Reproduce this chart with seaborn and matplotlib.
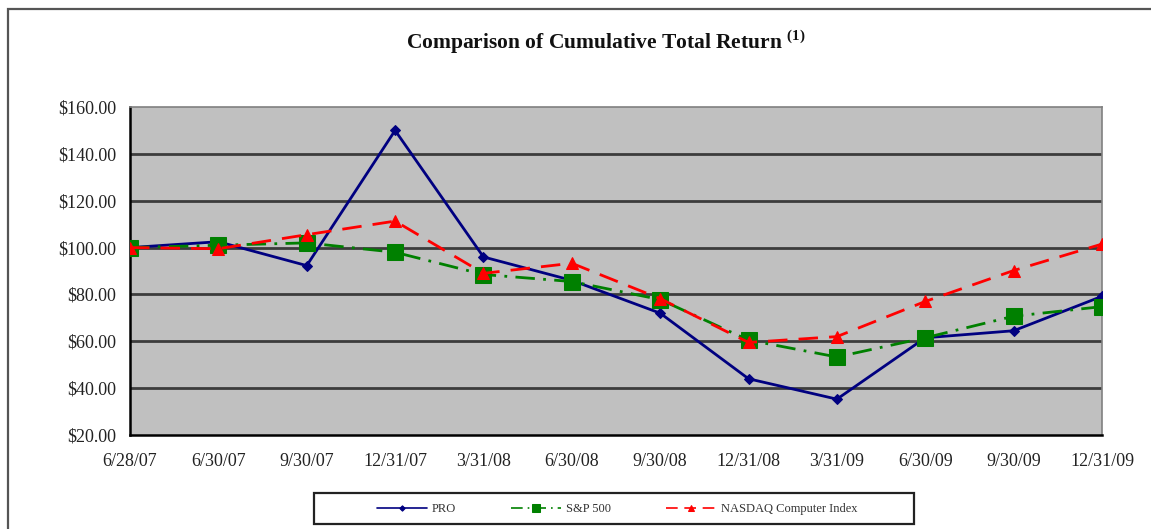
import pandas as pd
import seaborn as sns
import matplotlib.pyplot as plt
from matplotlib.patches import Rectangle

dates = ["6/28/07", "6/30/07", "9/30/07", "12/31/07", "3/31/08", "6/30/08",
         "9/30/08", "12/31/08", "3/31/09", "6/30/09", "9/30/09", "12/31/09"]
pro = [100, 102.5, 92.3, 150, 96, 86, 72, 44, 35.3, 61.5, 64.5, 79.2]
sp500 = [100, 101, 102, 98, 88.5, 85.5, 77.8, 60.5, 53.3, 61.5, 70.7, 74.8]
nasdaq = [100, 99.5, 105.5, 111.3, 89, 93.3, 78.2, 59.5, 62, 77, 90.2, 101.5]
y_ticks = [20, 40, 60, 80, 100, 120, 140, 160]

sns.set_theme(style="white")
plt.rcParams["font.family"] = ["Liberation Serif", "DejaVu Serif"]

df = pd.DataFrame({"pos": range(len(dates)), "date": dates,
                   "PRO": pro, "S&P 500": sp500, "NASDAQ Computer Index": nasdaq})

W, H = 1151, 529
fig = plt.figure(figsize=(W / 100, H / 100), dpi=100)
ax = fig.add_axes([130 / W, 1 - 435 / H, (1102 - 130) / W, (435 - 107) / H])
ax.set_facecolor("#c0c0c0")

# rahmen um die ganze grafik (rechts und unten ausserhalb des bildes)
fig.patches.append(Rectangle((8 / W, -0.05), 1.1, 1.05 - 9 / H,
                             transform=fig.transFigure, fill=False,
                             edgecolor="#555555", linewidth=1.6))

for y in y_ticks[1:-1]:
    ax.axhline(y, color="#3c3c3c", linewidth=2, zorder=1)

sns.lineplot(data=df, x="pos", y="PRO", ax=ax, color="#000080", linewidth=2,
             marker="D", markersize=5, markeredgecolor="#000080", label="PRO", zorder=3)
sns.lineplot(data=df, x="pos", y="S&P 500", ax=ax, color="#008000", linewidth=2,
             linestyle=(0, (7, 3, 1, 3)), marker="s", markersize=11,
             markeredgecolor="#008000", label="S&P 500", zorder=4)
sns.lineplot(data=df, x="pos", y="NASDAQ Computer Index", ax=ax, color="#ff0000",
             linewidth=2, linestyle=(0, (7, 4)), marker="^", markersize=9,
             markeredgecolor="#ff0000", label="NASDAQ Computer Index", zorder=5)

ax.set_xlim(0, len(dates) - 1)
ax.set_ylim(20, 160)
ax.set_xticks(df["pos"])
ax.set_xticklabels(dates, fontsize=13)
ax.set_yticks(y_ticks)
ax.set_yticklabels([f"${v:.2f}" for v in y_ticks], fontsize=13)
ax.tick_params(axis="both", direction="out", length=5, width=1.5, color="black",
               labelcolor="#222222", pad=5)
ax.tick_params(axis="x", pad=8)
ax.set_xlabel("")
ax.set_ylabel("")
for side in ["left", "bottom"]:
    ax.spines[side].set_color("black")
    ax.spines[side].set_linewidth(1.8)
for side in ["top", "right"]:
    ax.spines[side].set_color("#808080")
    ax.spines[side].set_linewidth(1.2)

fig.text(606 / W, 1 - 42 / H, r"Comparison of Cumulative Total Return $^{\mathregular{(1)}}$",
         ha="center", va="center", fontsize=15.5, fontweight="bold", color="#111111")

# legende ohne eigenen rahmen, kasten separat
handles, labels = ax.get_legend_handles_labels()
ax.get_legend().remove()
fig.patches.append(Rectangle((314 / W, 1 - 524 / H), 600 / W, 31 / H,
                             transform=fig.transFigure, fill=False,
                             edgecolor="#222222", linewidth=1.6))
leg = fig.legend(handles, labels, loc="center", bbox_to_anchor=(617 / W, 1 - 509 / H),
                 ncol=3, fontsize=9, frameon=False, columnspacing=4.4, handlelength=4,
                 handletextpad=0.4, markerscale=0.55, labelcolor="#333333")
for line in leg.get_lines():
    line.set_linewidth(1.2)

fig.savefig("out.png", dpi=100)
